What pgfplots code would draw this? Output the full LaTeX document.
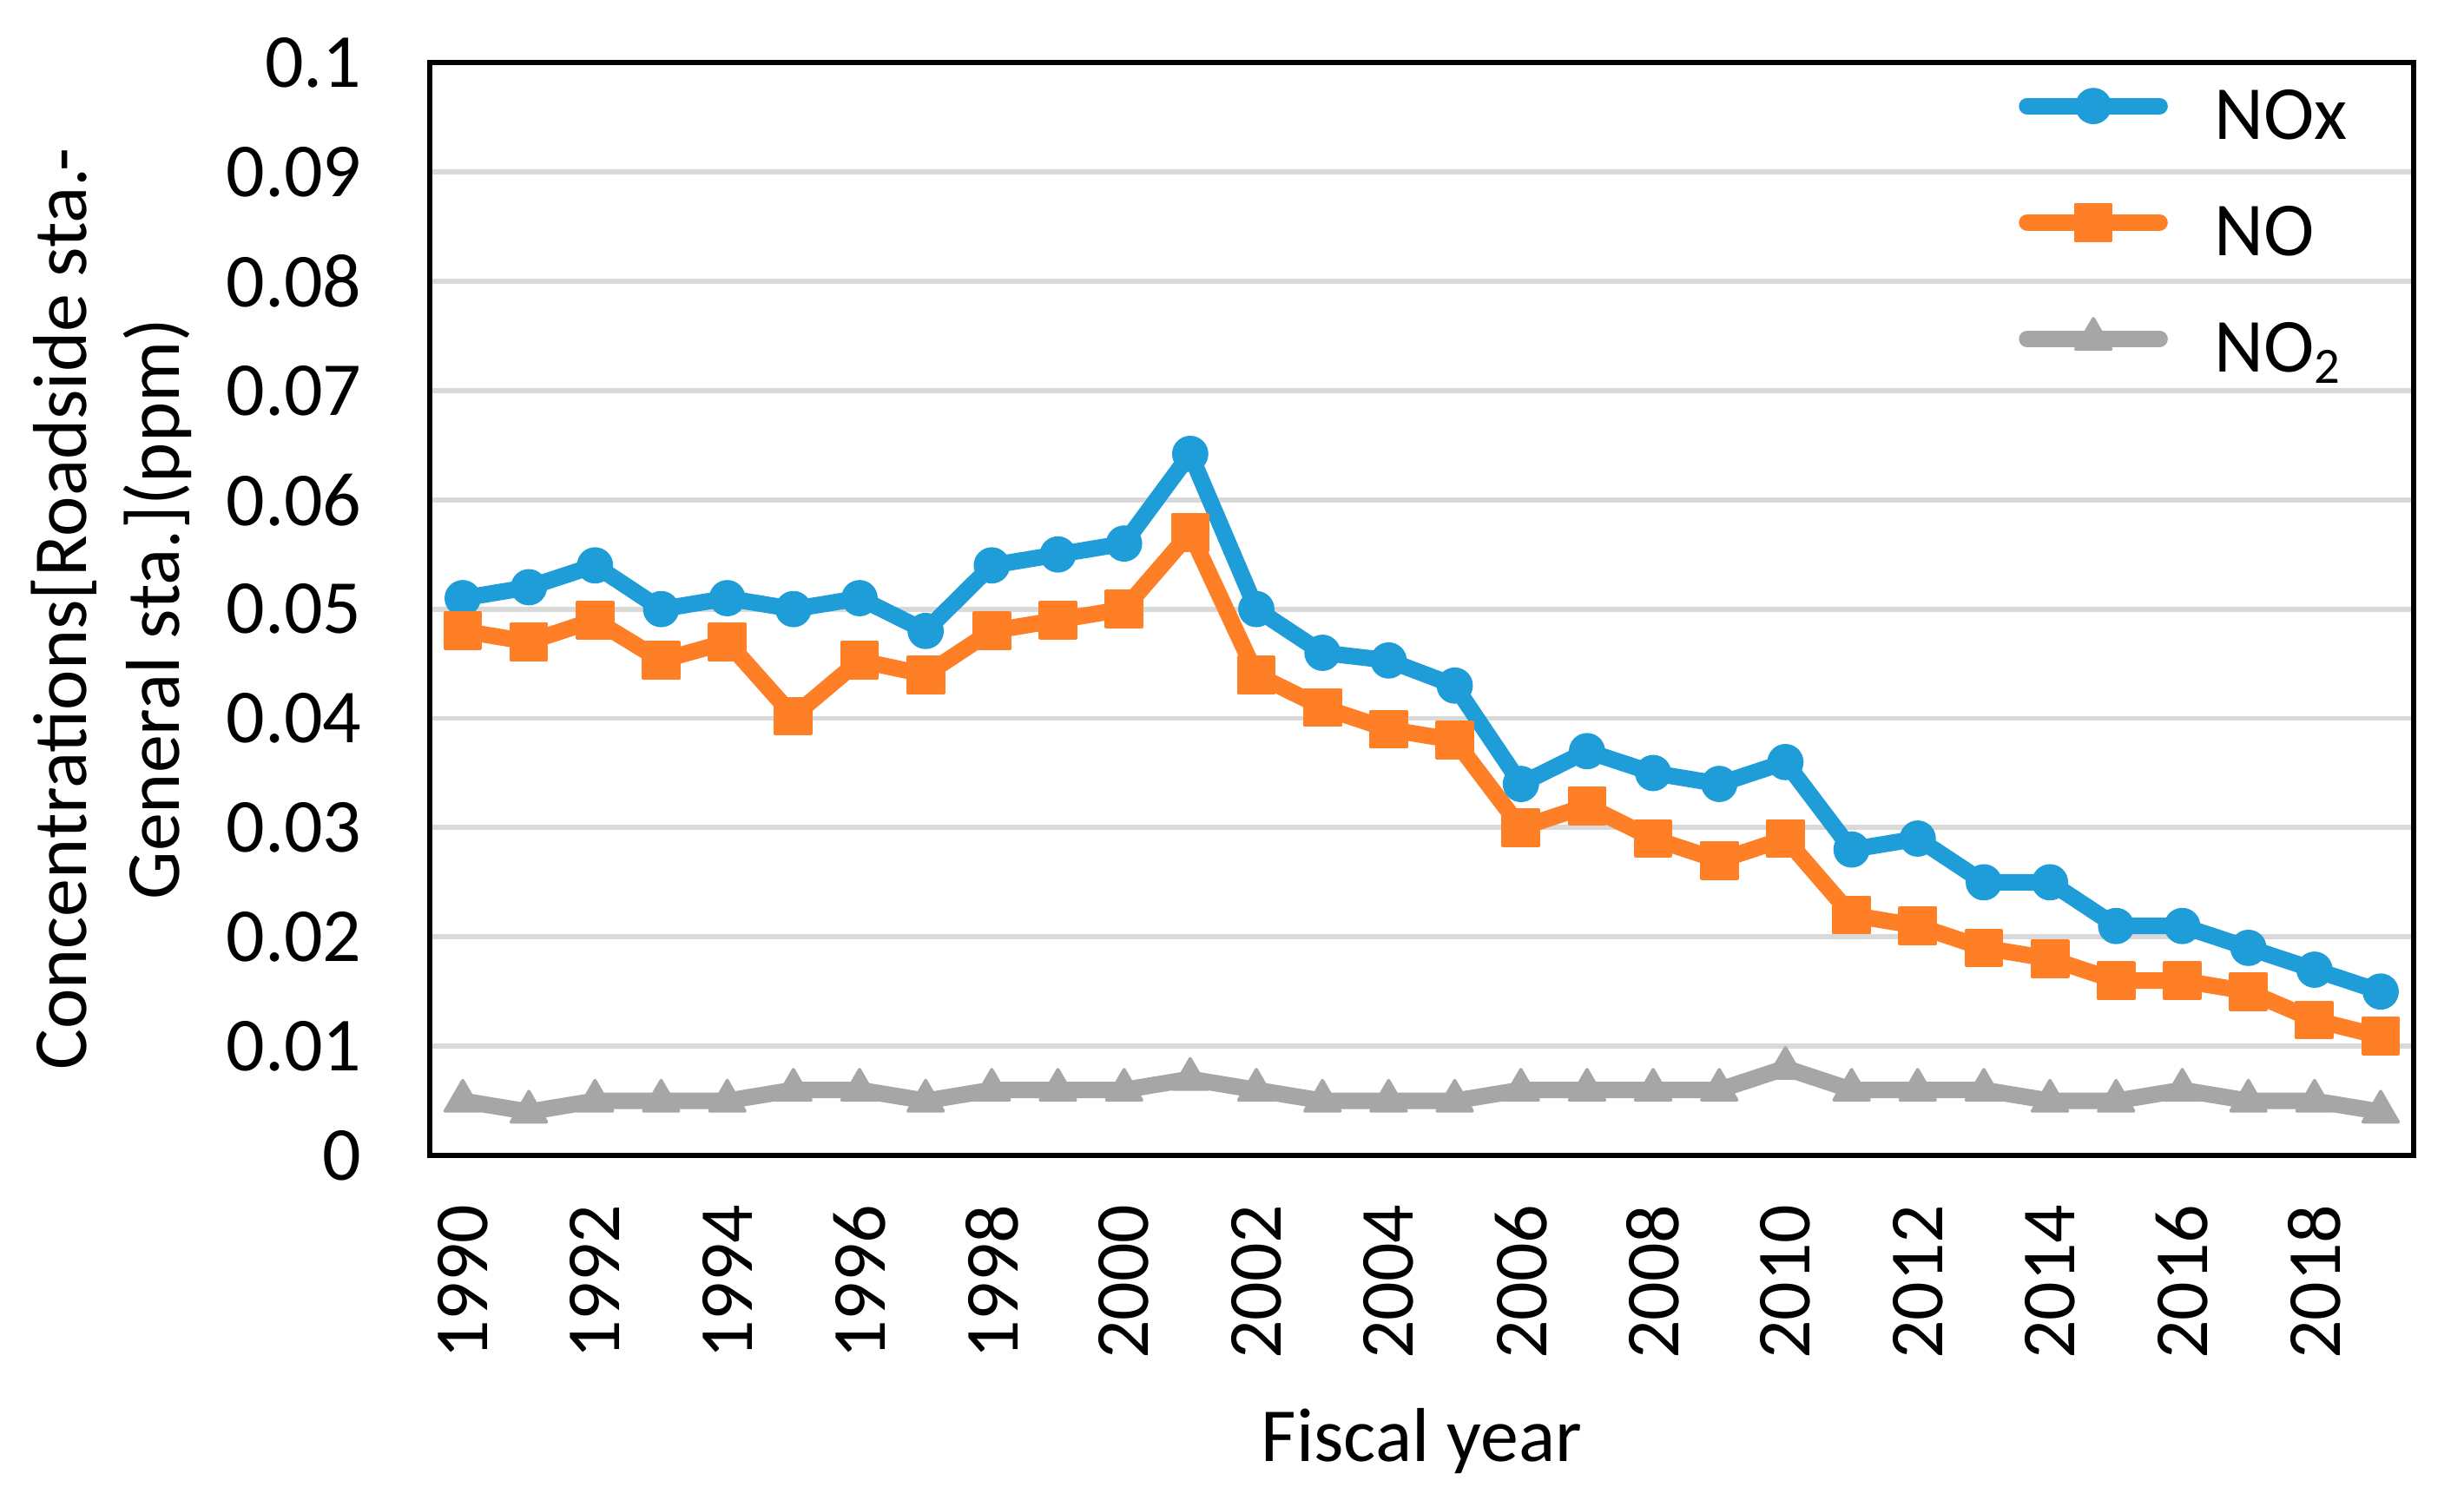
\documentclass[border=0pt]{standalone}
\usepackage{fontspec}
\setmainfont{Carlito}
\usepackage{pgfplots}
\usepackage{pgfplotstable}
\pgfplotsset{compat=1.18}
\definecolor{cnox}{RGB}{30,157,216}
\definecolor{cno}{RGB}{255,127,39}
\definecolor{cnotwo}{RGB}{166,166,166}
\definecolor{cgrid}{RGB}{217,217,217}
\pgfplotstableread{
x nox no no2
0 0.051 0.048 0.005
1 0.052 0.047 0.004
2 0.054 0.049 0.005
3 0.050 0.0453 0.005
4 0.051 0.047 0.005
5 0.050 0.0402 0.006
6 0.051 0.0453 0.006
7 0.048 0.044 0.005
8 0.054 0.048 0.006
9 0.055 0.049 0.006
10 0.056 0.050 0.006
11 0.0642 0.057 0.007
12 0.050 0.044 0.006
13 0.046 0.041 0.005
14 0.0453 0.039 0.005
15 0.043 0.038 0.005
16 0.034 0.030 0.006
17 0.037 0.032 0.006
18 0.035 0.029 0.006
19 0.034 0.027 0.006
20 0.036 0.029 0.008
21 0.028 0.022 0.006
22 0.029 0.021 0.006
23 0.025 0.019 0.006
24 0.025 0.018 0.005
25 0.021 0.016 0.005
26 0.021 0.016 0.006
27 0.019 0.015 0.005
28 0.017 0.0124 0.005
29 0.015 0.0109 0.004
}\datatable
\begin{document}
\fontsize{12}{14.7}\selectfont
\begin{tikzpicture}
\path[use as bounding box] (-67.5pt,-55.1pt) rectangle (319.6pt,181.55pt);
\begin{axis}[
  at={(0,0)}, anchor=south west,
  scale only axis, width=311.7pt, height=171.7pt,
  xmin=-0.5, xmax=29.5, ymin=0, ymax=0.1,
  axis line style={black, line width=0.8pt},
  major tick length=0pt,
  tick style={draw=none},
  ymajorgrids, grid style={cgrid, line width=0.8pt},
  xtick={0,2,...,28},
  xticklabels={1990,1992,1994,1996,1998,2000,2002,2004,2006,2008,2010,2012,2014,2016,2018},
  ytick={0,0.01,0.02,0.03,0.04,0.05,0.06,0.07,0.08,0.09,0.1},
  yticklabels={0,0.01,0.02,0.03,0.04,0.05,0.06,0.07,0.08,0.09,0.1},
  xticklabel style={rotate=90, anchor=east, inner sep=0pt},
  xticklabel shift=7.5pt,
  yticklabel style={anchor=east, inner sep=0pt},
  yticklabel shift=10.5pt,
  xlabel={Fiscal year},
  xlabel style={at={(axis description cs:0.5,-0.2796)}, anchor=base, inner sep=0pt},
  ylabel={Concentrations[Roadside sta.-\\General sta.](ppm)},
  ylabel style={at={(axis description cs:-0.1604,0.5)}, anchor=center, align=center, inner sep=0pt},
  legend style={draw=none, fill=none, at={(axis description cs:0.8010,0.9796)}, anchor=north west,
    inner sep=0pt, outer sep=0pt, row sep=6.8pt, column sep=7.3pt,
    nodes={inner sep=0pt, text height=8.5pt, text depth=3pt, anchor=base west}},
  legend cell align=left,
  legend image code/.code={\draw[mark repeat=2,mark phase=2,line cap=round,#1] plot coordinates {(0pt,5.2pt) (10.4pt,5.2pt) (20.8pt,5.2pt)};},
]
\addplot[cnox, line width=2.6pt, line join=round, mark=*, mark size=2.6pt, mark options={line width=0.5pt, fill=cnox, draw=cnox}] table[x=x, y=nox] {\datatable};
\addlegendentry{NOx}
\addplot[cno, line width=2.6pt, line join=round, mark=square*, mark size=2.8pt, mark options={line width=0.5pt, fill=cno, draw=cno}] table[x=x, y=no] {\datatable};
\addlegendentry{NO}
\addplot[cnotwo, line width=2.6pt, line join=round, mark=triangle*, mark size=3.2pt, mark options={line width=0.5pt, line join=round, fill=cnotwo, draw=cnotwo}] table[x=x, y=no2] {\datatable};
\addlegendentry{NO\textsubscript{2}}
\end{axis}
\end{tikzpicture}
\end{document}
